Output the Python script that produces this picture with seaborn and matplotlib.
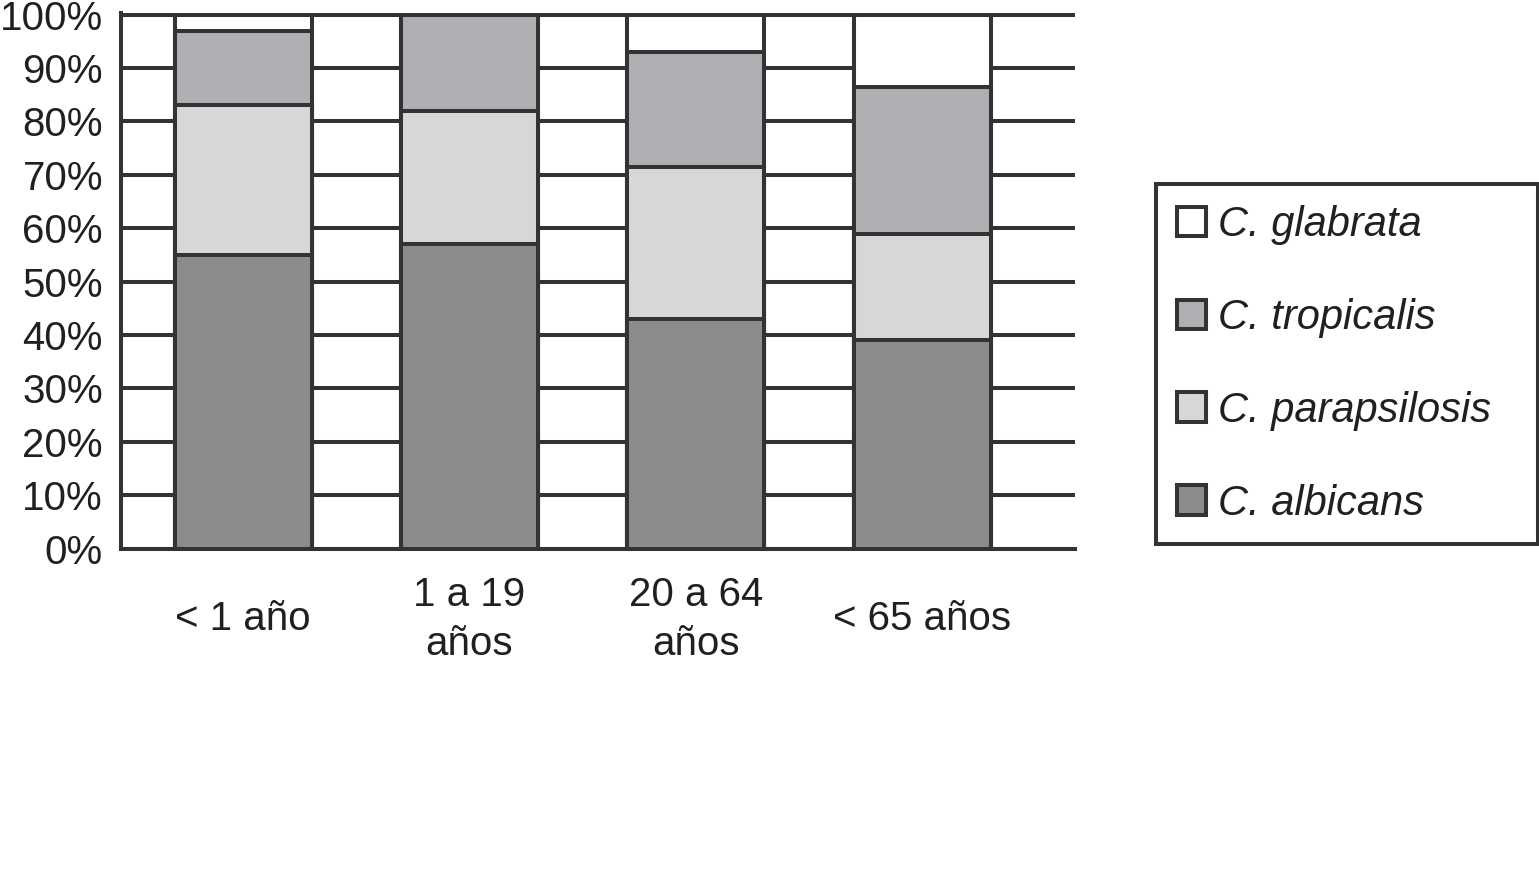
import numpy as np
import matplotlib
matplotlib.use("Agg")
import matplotlib.pyplot as plt
import seaborn as sns

# datos (% por grupo de edad)
grupos = ["< 1 año", "1 a 19\naños", "20 a 64\naños", "< 65 años"]
albicans = [55, 57, 43, 39]
parapsilosis = [28, 25, 28.5, 20]
tropicalis = [14, 18, 21.5, 27.5]
glabrata = [3, 0, 7, 13.5]

especies = ["C. glabrata", "C. tropicalis", "C. parapsilosis", "C. albicans"]
colores = ["#ffffff", "#afb0b3", "#d6d7d9", "#8b8c8e"]

sns.set_theme(style="white")
plt.rcParams["font.family"] = ["Liberation Sans", "DejaVu Sans"]
ink = "#333333"
txt = "#231f20"
lw = 2.9

# acumulados, de arriba hacia abajo
c_alb = np.array(albicans)
c_par = c_alb + np.array(parapsilosis)
c_tro = c_par + np.array(tropicalis)
c_gla = c_tro + np.array(glabrata)
acumulados = [c_gla, c_tro, c_par, c_alb]

fig = plt.figure(figsize=(15.39, 8.94), dpi=100)
ax = fig.add_axes([121 / 1539, 1 - 548.5 / 894, (1075 - 121) / 1539, (548.5 - 12.5) / 894])

for nombre, color, alturas in zip(especies, colores, acumulados):
    sns.barplot(x=grupos, y=alturas, color=color, width=0.605, label=nombre,
                edgecolor=ink, linewidth=lw, saturation=1, ax=ax, zorder=3)

handles, labels = ax.get_legend_handles_labels()
if ax.get_legend() is not None:
    ax.get_legend().remove()

ax.set_xlim(-0.54, 3.675)
ax.set_ylim(0, 100.4)
ax.set_yticks(np.arange(0, 101, 10))
ax.set_yticklabels([f"{v}%" for v in range(0, 101, 10)])
ax.yaxis.grid(True, color=ink, linewidth=lw)
ax.xaxis.grid(False)
ax.set_axisbelow(True)
ax.set_xlabel("")
ax.set_ylabel("")

for s in ["top", "right"]:
    ax.spines[s].set_visible(False)
for s in ["left", "bottom"]:
    ax.spines[s].set_color(ink)
    ax.spines[s].set_linewidth(lw)

ax.tick_params(axis="y", length=0, pad=13, labelsize=29, labelcolor=txt)
ax.tick_params(axis="x", length=0, pad=51, labelsize=29, labelcolor=txt)
for lbl in ax.get_xticklabels():
    lbl.set_verticalalignment("center")
    lbl.set_linespacing(1.35)

leg = fig.legend(handles, labels, loc="upper left",
                 bbox_to_anchor=(1156 / 1539, 1 - 184 / 894, 382 / 1539, 0),
                 mode="expand", borderaxespad=0, frameon=True, fancybox=False,
                 framealpha=1, edgecolor=ink, prop={"style": "italic", "size": 30},
                 handlelength=0.7, handleheight=0.7, handletextpad=0.3,
                 labelspacing=1.27, borderpad=0.5, labelcolor=txt)
leg.get_frame().set_linewidth(lw)

fig.savefig("out.png", dpi=100, facecolor="white")
